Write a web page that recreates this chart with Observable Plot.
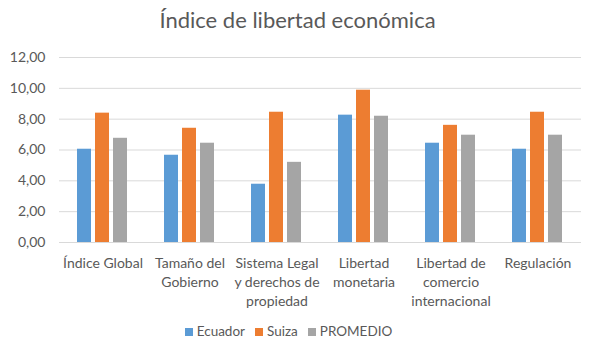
<!DOCTYPE html>
<html><head><meta charset="utf-8">
<script src="https://cdn.jsdelivr.net/npm/d3@7"></script>
<script src="https://cdn.jsdelivr.net/npm/@observablehq/plot@0.6"></script>
<style>
body{margin:0;background:#fff;font-family:Lato, "Open Sans", sans-serif;color:#595959;}
#wrap{position:relative;width:595px;height:353px;overflow:hidden;}
#title{position:absolute;top:0;left:0;width:595px;text-align:center;font-size:22px;line-height:40px;}
#chart{position:absolute;top:40px;left:0;}
#legend{position:absolute;top:322px;left:0;width:577px;text-align:center;font-size:13.5px;line-height:18px;}
.item{display:inline-block;margin:0 5px;}
.sw{display:inline-block;width:8px;height:8px;margin-right:4px;vertical-align:0px;}
</style></head>
<body>
<div id="wrap">
  <div id="title">Índice de libertad económica</div>
  <div id="chart"></div>
  <div id="legend"></div>
</div>
<script>
const categories = ["Índice Global", "Tamaño del Gobierno", "Sistema Legal y derechos de propiedad", "Libertad monetaria", "Libertad de comercio internacional", "Regulación"];
const categoryLabels = ["Índice Global", "Tamaño del\nGobierno", "Sistema Legal\ny derechos de\npropiedad", "Libertad\nmonetaria", "Libertad de\ncomercio\ninternacional", "Regulación"];
const series = ["Ecuador", "Suiza", "PROMEDIO"];
const ecuador = [6.05, 5.66, 3.78, 8.26, 6.44, 6.05];
const suiza = [8.39, 7.41, 8.45, 9.88, 7.60, 8.45];
const promedio = [6.76, 6.44, 5.20, 8.19, 6.96, 6.96];
const colors = ["#5b9bd5", "#ed7d31", "#a5a5a5"];
const yTicks = [0, 2, 4, 6, 8, 10, 12];

const valuesBySeries = [ecuador, suiza, promedio];
const data = [];
categories.forEach((c, i) => series.forEach((s, j) => data.push({cat: c, serie: s, value: valuesBySeries[j][i]})));

const chart = Plot.plot({
  width: 595, height: 275,
  marginLeft: 58, marginRight: 14, marginTop: 17, marginBottom: 73,
  style: {fontSize: "14px", fontFamily: "Lato, 'Open Sans', sans-serif", color: "#595959", background: "white"},
  fx: {domain: categories, padding: 0, label: null},
  x: {domain: series, axis: null, paddingInner: 0.21, paddingOuter: 0.9},
  y: {domain: [0, 12], label: null},
  color: {domain: series, range: colors},
  marks: [
    Plot.ruleY(yTicks, {stroke: "#d9d9d9", strokeWidth: 1}),
    Plot.barY(data, {fx: "cat", x: "serie", y: "value", fill: "serie"}),
    Plot.axisY({ticks: yTicks, tickSize: 0, tickPadding: 14, label: null, tickFormat: d => d.toFixed(2).replace(".", ",")}),
    Plot.axisFx({anchor: "bottom", tickSize: 0, tickPadding: 12, label: null, lineHeight: 1.35, tickFormat: d => categoryLabels[categories.indexOf(d)]})
  ]
});
document.getElementById("chart").appendChild(chart);

const legend = document.getElementById("legend");
series.forEach((s, i) => {
  const it = document.createElement("span");
  it.className = "item";
  it.innerHTML = `<span class="sw" style="background:${colors[i]}"></span>${s}`;
  legend.appendChild(it);
});
</script>
</body></html>
